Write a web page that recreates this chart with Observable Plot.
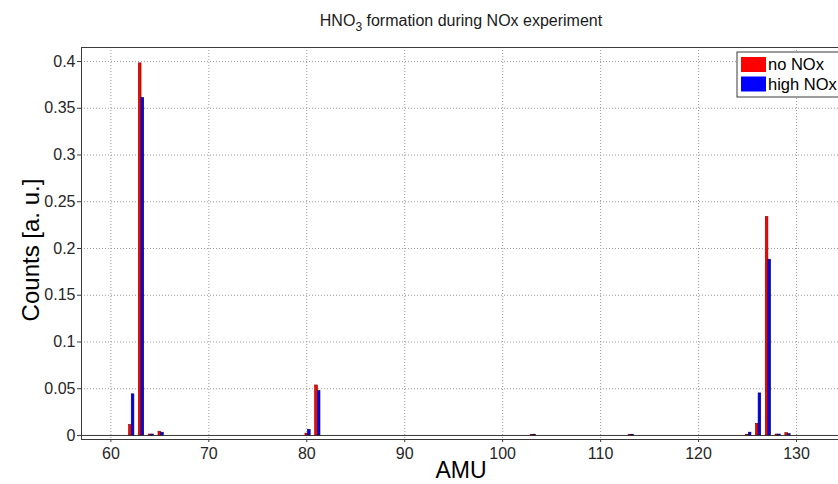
<!DOCTYPE html>
<html>
<head>
<meta charset="utf-8">
<script src="https://cdn.jsdelivr.net/npm/d3@7"></script>
<script src="https://cdn.jsdelivr.net/npm/@observablehq/plot@0.6"></script>
<style>
  html, body { margin: 0; padding: 0; background: #fff; overflow: hidden; width: 838px; height: 484px; }
  #chart { width: 838px; height: 484px; overflow: hidden; }
  #chart svg { display: block; max-width: none !important; width: 844px; height: 484px; font-family: "Liberation Sans", Arial, sans-serif; }
</style>
</head>
<body>
<div id="chart"></div>
<script>
// ---- data ----
const amu = [62, 63, 64, 65, 80, 81, 103, 113, 125, 126, 127, 128, 129];
const noNOx = [0.011, 0.398, 0.001, 0.004, 0.002, 0.0535, 0.0004, 0.0004, 0.0008, 0.0125, 0.2335, 0.001, 0.0025];
const highNOx = [0.044, 0.361, 0.001, 0.003, 0.006, 0.0475, 0.0008, 0.0008, 0.003, 0.045, 0.188, 0.001, 0.0015];
const seriesNames = ["no NOx", "high NOx"];
const seriesColors = ["#ff0000", "#0000ff"];
const xTicks = [60, 70, 80, 90, 100, 110, 120, 130];
const yTicks = [0, 0.05, 0.1, 0.15, 0.2, 0.25, 0.3, 0.35, 0.4];
const titleMain = "HNO", titleSub = "3", titleRest = " formation during NOx experiment";
const xLabel = "AMU";
const yLabel = "Counts [a. u.]";

// ---- build table ----
const rows = [];
amu.forEach((a, i) => {
  rows.push({amu: a, series: seriesNames[0], idx: 0, value: noNOx[i]});
  rows.push({amu: a, series: seriesNames[1], idx: 1, value: highNOx[i]});
});

const W = 844, H = 484;
const barW = 0.27, shift = 0.13;
const axisColor = "#3a3a3a";
const gridColor = "#9a9a9a";

const plot = Plot.plot({
  width: W,
  height: H,
  marginLeft: 81,
  marginRight: 0,
  marginTop: 47,
  marginBottom: 45,
  style: {fontFamily: "'Liberation Sans', Arial, sans-serif", fontSize: "16px", color: "#262626", background: "#fff", maxWidth: "none"},
  x: {domain: [57, 134.9], ticks: xTicks, tickFormat: d => String(d), label: null},
  y: {domain: [-0.0043, 0.415], ticks: yTicks, tickFormat: d => String(+d.toFixed(2)), label: null},
  marks: [
    Plot.gridX(xTicks, {stroke: gridColor, strokeOpacity: 1, strokeDasharray: "1,2", strokeWidth: 1}),
    Plot.gridY(yTicks, {stroke: gridColor, strokeOpacity: 1, strokeDasharray: "1,2", strokeWidth: 1}),
    Plot.ruleY([0], {stroke: axisColor, strokeWidth: 1}),
    Plot.rectY(rows, {
      x1: d => d.amu + shift + (d.idx - 1) * barW,
      x2: d => d.amu + shift + d.idx * barW,
      y1: 0,
      y2: "value",
      fill: d => seriesColors[d.idx],
      stroke: d => d.idx === 0 ? "#7a0000" : "#000040",
      strokeWidth: 0.6
    }),
    Plot.axisX({ticks: xTicks, tickSize: 3, tickPadding: 5, stroke: axisColor, fontSize: 16, fill: "#262626"}),
    Plot.axisY({ticks: yTicks, tickSize: 4, tickPadding: 2, stroke: axisColor, fontSize: 16, fill: "#262626", tickFormat: d => String(+d.toFixed(2))}),
    Plot.frame({stroke: axisColor, strokeWidth: 1})
  ]
});

document.getElementById("chart").appendChild(plot);

const svg = d3.select(plot);
// Title with subscript
const t = svg.append("text")
  .attr("x", 461).attr("y", 26)
  .attr("text-anchor", "middle")
  .style("font-size", "16px")
  .style("fill", "#1a1a1a");
t.append("tspan").text(titleMain);
t.append("tspan").attr("dy", 5).style("font-size", "12px").text(titleSub);
t.append("tspan").attr("dy", -5).text(titleRest);

// Axis labels
svg.append("text")
  .attr("x", 461).attr("y", 478)
  .attr("text-anchor", "middle")
  .style("font-size", "23px").style("fill", "#000")
  .text(xLabel);
svg.append("text")
  .attr("transform", "translate(39,250) rotate(-90)")
  .attr("text-anchor", "middle")
  .style("font-size", "24px").style("fill", "#000")
  .text(yLabel);

// Legend
const lg = svg.append("g");
lg.append("rect")
  .attr("x", 737).attr("y", 52).attr("width", 110).attr("height", 45)
  .attr("fill", "#fff").attr("stroke", axisColor).attr("stroke-width", 1);
seriesNames.forEach((name, i) => {
  lg.append("rect")
    .attr("x", 741).attr("y", 57 + i * 19.5).attr("width", 25).attr("height", 15)
    .attr("fill", seriesColors[i]);
  lg.append("text")
    .attr("x", 768).attr("y", 70 + i * 19.5)
    .attr("text-anchor", "start")
    .style("font-size", "16.5px").style("fill", "#000")
    .text(name);
});
</script>
</body>
</html>
